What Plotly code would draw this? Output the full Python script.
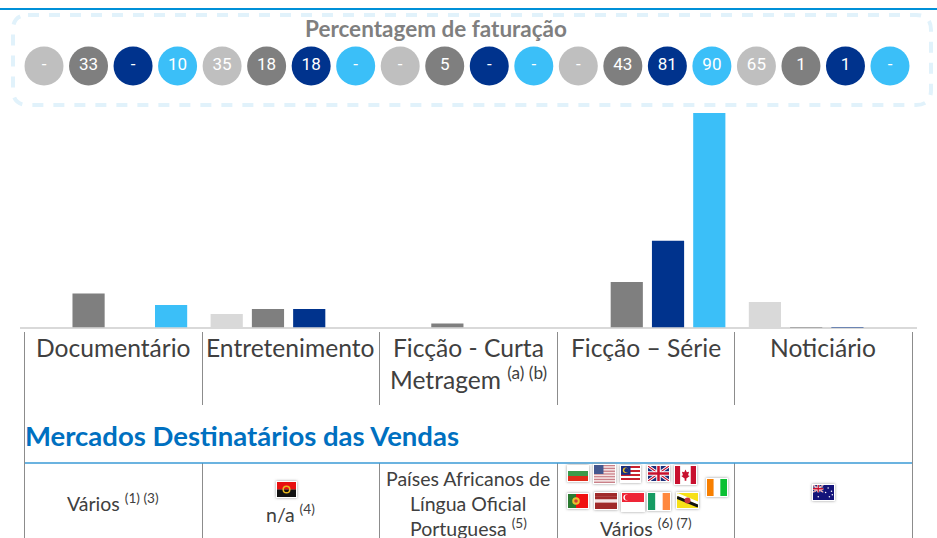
import base64
import plotly.graph_objects as go

W, H = 937, 538

categories = ["Documentário", "Entretenimento", "Ficção - Curta Metragem", "Ficção – Série", "Noticiário"]
series_names = ["S1", "S2", "S3", "S4"]
light_values = [0, 13.5, 0, 0, 25.5]
grey_values = [34, 18.5, 4, 45.5, 0.3]
navy_values = [0, 18.5, 0, 86.5, 0.3]
blue_values = [22.5, 0, 0, 214, 0]

pill_labels = ["-", "33", "-", "10", "35", "18", "18", "-", "-", "5", "-", "-", "-", "43", "81", "90", "65", "1", "1", "-"]

BAR_COLORS = ["#d9d9d9", "#7f7f7f", "#00338d", "#3bbff8"]
PILL_COLORS = ["#bfbfbf", "#7f7f7f", "#00338d", "#3bbff8"]
FONT = "Lato"
TEXT = "#404040"


def px(x):
    return x / W


def py(y):
    return 1 - y / H


fig = go.Figure()
for name, vals, col in zip(series_names, [light_values, grey_values, navy_values, blue_values], BAR_COLORS):
    fig.add_trace(go.Bar(x=categories, y=vals, name=name, marker=dict(color=col, line=dict(width=0)),
                         xaxis="x", yaxis="y", showlegend=False, hoverinfo="skip"))

fig.add_trace(go.Scatter(
    x=list(range(len(pill_labels))), y=[0.5] * len(pill_labels), mode="markers+text",
    text=pill_labels, textposition="middle center",
    textfont=dict(family="Roboto", size=17, color="white"),
    marker=dict(size=39, color=[PILL_COLORS[i % 4] for i in range(len(pill_labels))], line=dict(width=0)),
    xaxis="x2", yaxis="y2", showlegend=False, hoverinfo="skip", cliponaxis=False))

shapes = []


def line(x0, y0, x1, y1, color, width):
    shapes.append(dict(type="line", xref="paper", yref="paper", x0=px(x0), y0=py(y0), x1=px(x1), y1=py(y1),
                       line=dict(color=color, width=width), layer="below"))


line(0, 9, W, 9, "#0090d8", 2)
# dashed rounded box
l, t, r, b, c = 13, 15, 931, 105, 15
path = (f"M {px(l+c)} {py(t)} L {px(r-c)} {py(t)} Q {px(r)} {py(t)} {px(r)} {py(t+c)} "
        f"L {px(r)} {py(b-c)} Q {px(r)} {py(b)} {px(r-c)} {py(b)} L {px(l+c)} {py(b)} "
        f"Q {px(l)} {py(b)} {px(l)} {py(b-c)} L {px(l)} {py(t+c)} Q {px(l)} {py(t)} {px(l+c)} {py(t)} Z")
shapes.append(dict(type="path", xref="paper", yref="paper", path=path, layer="below",
                   line=dict(color="#e1f2fb", width=4, dash="11px,10px")))
line(20, 328, 917, 328, "#d9d9d9", 2)
for x in [202.5, 379.5, 557.5, 734.5]:
    line(x, 332, x, 405, "#8c8c8c", 1)
    line(x, 463, x, 538, "#8c8c8c", 1)
for x in [24.5, 912.5]:
    line(x, 332, x, 538, "#8c8c8c", 1)
line(25, 463, 912, 463, "#3a9ad6", 1.5)

annotations = []


def text(x, y, s, size, color=TEXT, bold=False, anchor="center"):
    annotations.append(dict(xref="paper", yref="paper", x=px(x), y=py(y), text=f"<b>{s}</b>" if bold else s,
                            showarrow=False, xanchor=anchor, yanchor="middle",
                            font=dict(family=FONT, size=size, color=color)))


CAT = 24.6
SMALL = 19.5
text(436, 28.5, "Percentagem de faturação", 22.5, "#7f7f7f", True)
for x, s in zip([113, 290], categories[:2]):
    text(x, 347, s, CAT)
text(468, 347, "Ficção - Curta", CAT)
text(468, 378, "Metragem <sup>(a) (b)</sup>", CAT)
text(646, 347, categories[3], CAT)
text(823, 347, categories[4], CAT)
text(22.5, 436, "Mercados Destinatários das Vendas", 27.5, "#0070c0", True, "left")
text(113, 502, "Vários <sup>(1) (3)</sup>", SMALL)
text(290, 513, "n/a <sup>(4)</sup>", SMALL)
text(468, 478, "Países Africanos de", SMALL)
text(468, 503, "Língua Oficial", SMALL)
text(468, 527.5, "Portuguesa <sup>(5)</sup>", SMALL)
text(646, 527, "Vários <sup>(6) (7)</sup>", SMALL)


def stripes_h(w, h, cols):
    n = len(cols)
    return "".join(f'<rect x="0" y="{i*h/n}" width="{w}" height="{h/n+.2}" fill="{c}"/>' for i, c in enumerate(cols))


def stripes_v(w, h, cols):
    n = len(cols)
    return "".join(f'<rect x="{i*w/n}" y="0" width="{w/n+.2}" height="{h}" fill="{c}"/>' for i, c in enumerate(cols))


def union(w, h):
    return (f'<rect width="{w}" height="{h}" fill="#1c2f7a"/>'
            f'<path d="M0 0L{w} {h}M{w} 0L0 {h}" stroke="#fff" stroke-width="{h*.2}"/>'
            f'<path d="M0 0L{w} {h}M{w} 0L0 {h}" stroke="#c8102e" stroke-width="{h*.07}"/>'
            f'<path d="M{w/2} 0V{h}M0 {h/2}H{w}" stroke="#fff" stroke-width="{h*.3}"/>'
            f'<path d="M{w/2} 0V{h}M0 {h/2}H{w}" stroke="#c8102e" stroke-width="{h*.17}"/>')


def fl_bg(w, h):
    return stripes_h(w, h, ["#ffffff", "#3a9a4a", "#e02a1a"])


def fl_us(w, h):
    return stripes_h(w, h, ["#c98088", "#f5e4e4"] * 6 + ["#c98088"]) + f'<rect width="{w*.45}" height="{h*.5}" fill="#44588f"/>'


def fl_my(w, h):
    return (stripes_h(w, h, ["#c8202e", "#ffffff"] * 4) +
            f'<rect width="{w*.5}" height="{h*.55}" fill="#1a2f80"/>'
            f'<circle cx="{w*.24}" cy="{h*.27}" r="{h*.17}" fill="#f5c518"/>'
            f'<circle cx="{w*.29}" cy="{h*.27}" r="{h*.14}" fill="#1a2f80"/>')


def fl_ca(w, h):
    m = w / 2
    return (stripes_v(w, h, ["#c8102e", "#ffffff", "#ffffff", "#c8102e"]) +
            f'<path d="M{m} {h*.2}L{m+w*.06} {h*.35}L{m+w*.17} {h*.32}L{m+w*.12} {h*.52}L{m+w*.2} {h*.55}L{m+w*.04} {h*.7}V{h*.82}H{m-w*.04}V{h*.7}L{m-w*.2} {h*.55}L{m-w*.12} {h*.52}L{m-w*.17} {h*.32}L{m-w*.06} {h*.35}Z" fill="#c8102e"/>')


def fl_ci(w, h):
    return stripes_v(w, h, ["#f77f00", "#ffffff", "#0cc034"])


def fl_pt(w, h):
    return (f'<rect width="{w*.4}" height="{h}" fill="#2a7a30"/>'
            f'<rect x="{w*.4}" width="{w*.6}" height="{h}" fill="#f01010"/>'
            f'<circle cx="{w*.4}" cy="{h*.5}" r="{h*.27}" fill="#e8c030"/>'
            f'<circle cx="{w*.4}" cy="{h*.5}" r="{h*.13}" fill="#d04030"/>')


def fl_lv(w, h):
    return stripes_h(w, h, ["#a02a2a", "#a02a2a", "#f3e6e6", "#a02a2a", "#a02a2a"])


def fl_sg(w, h):
    return (stripes_h(w, h, ["#ee2536", "#ffffff"]) +
            f'<circle cx="{w*.2}" cy="{h*.25}" r="{h*.17}" fill="#fff"/>'
            f'<circle cx="{w*.26}" cy="{h*.25}" r="{h*.16}" fill="#ee2536"/>')


def fl_ie(w, h):
    return stripes_v(w, h, ["#169b62", "#ffffff", "#ff883e"])


def fl_bn(w, h):
    return (f'<rect width="{w}" height="{h}" fill="#f7e017"/>'
            f'<path d="M0 {h*.1}L{w} {h*.68}" stroke="#fff" stroke-width="{h*.2}"/>'
            f'<path d="M0 {h*.3}L{w} {h*.88}" stroke="#111" stroke-width="{h*.2}"/>'
            f'<circle cx="{w*.5}" cy="{h*.5}" r="{h*.2}" fill="#c8303a"/>')


def fl_ao(w, h):
    return (stripes_h(w, h, ["#e81010", "#111111"]) +
            f'<circle cx="{w*.5}" cy="{h*.5}" r="{h*.22}" fill="none" stroke="#e8b820" stroke-width="{h*.1}"/>')


def fl_au(w, h):
    stars = [(.72, .2), (.88, .42), (.6, .5), (.78, .78), (.25, .78), (.92, .65)]
    dots = "".join(f'<circle cx="{w*a}" cy="{h*b}" r="{h*.05}" fill="#fff"/>' for a, b in stars)
    return f'<rect width="{w}" height="{h}" fill="#14147a"/><svg width="{w*.5}" height="{h*.5}">{union(w*.5, h*.5)}</svg>' + dots


def fl_uk(w, h):
    return union(w, h)


flags = [
    (fl_bg, 567, 465, 589, 482), (fl_us, 593, 464, 616, 484), (fl_my, 620, 465, 641, 483),
    (fl_uk, 647, 465, 670, 482), (fl_ca, 674, 465, 697, 485), (fl_ci, 706, 478, 728, 497),
    (fl_pt, 567, 493, 589, 509), (fl_lv, 594, 492, 618, 510), (fl_sg, 621, 492, 645, 512),
    (fl_ie, 647, 492, 671, 511), (fl_bn, 676, 492, 699, 509), (fl_au, 812, 484, 835, 501),
    (fl_ao, 276, 481, 297, 498),
]
images = []
PAD = 5
for fn, x0, y0, x1, y1 in flags:
    w, h = x1 - x0, y1 - y0
    inner_w, inner_h = w - 2, h - 2
    svg = (f'<svg xmlns="http://www.w3.org/2000/svg" width="{w+2*PAD}" height="{h+2*PAD}" viewBox="0 0 {w+2*PAD} {h+2*PAD}">'
           f'<defs><filter id="s" x="-30%" y="-30%" width="160%" height="160%"><feGaussianBlur stdDeviation="1.6"/></filter></defs>'
           f'<rect x="{PAD}" y="{PAD}" width="{w}" height="{h}" fill="#999" filter="url(#s)"/>'
           f'<rect x="{PAD}" y="{PAD}" width="{w}" height="{h}" fill="#fff"/>'
           f'<svg x="{PAD+1}" y="{PAD+1}" width="{inner_w}" height="{inner_h}" viewBox="0 0 {inner_w} {inner_h}">{fn(inner_w, inner_h)}</svg></svg>')
    uri = "data:image/svg+xml;base64," + base64.b64encode(svg.encode()).decode()
    images.append(dict(source=uri, xref="paper", yref="paper", x=px(x0 - PAD), y=py(y0 - PAD),
                       sizex=(w + 2 * PAD) / W, sizey=(h + 2 * PAD) / H, xanchor="left", yanchor="top",
                       sizing="stretch", layer="above"))

step = 44.526
fig.update_layout(
    width=W, height=H, margin=dict(l=0, r=0, t=0, b=0, pad=0), autosize=False,
    paper_bgcolor="white", plot_bgcolor="rgba(0,0,0,0)",
    barmode="group", bargap=0.08, bargroupgap=0.22,
    xaxis=dict(domain=[px(19.5), px(916.5)], visible=False, type="category", fixedrange=True),
    yaxis=dict(domain=[py(327.5), py(113)], range=[0, 214], visible=False, fixedrange=True),
    xaxis2=dict(domain=[0, 1], range=[-44 / step, (W - 44) / step], visible=False, anchor="y2", fixedrange=True),
    yaxis2=dict(domain=[py(86), py(46)], range=[0, 1], visible=False, anchor="x2", fixedrange=True),
    shapes=shapes, annotations=annotations, images=images, showlegend=False,
)

fig.write_html("out.html", config=dict(displayModeBar=False),
               post_script="document.body.style.margin='0';document.body.style.overflow='hidden';")
